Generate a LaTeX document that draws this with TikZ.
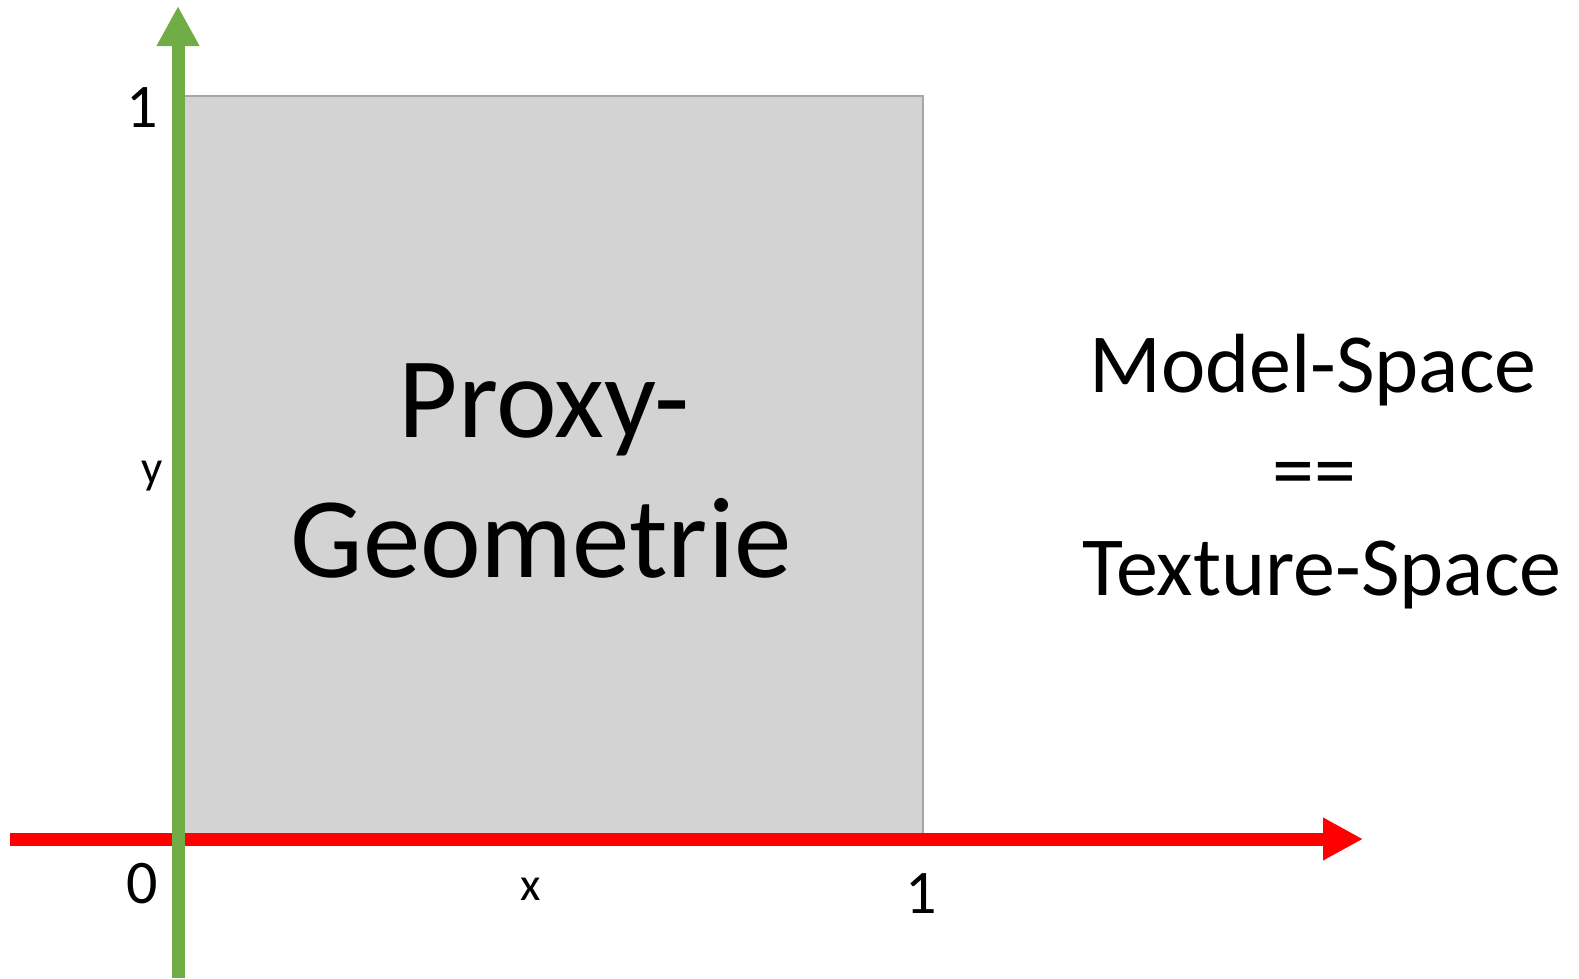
\documentclass[tikz,border=0pt]{standalone}
\usepackage{fontspec}
\setmainfont{Carlito}
\usetikzlibrary{arrows.meta}
\definecolor{axisred}{HTML}{FF0000}
\definecolor{axisgreen}{HTML}{70AD47}
\definecolor{proxyfill}{HTML}{D3D3D3}
\definecolor{proxyedge}{HTML}{A6A6A6}
\tikzset{
  axisline/.style={line width=13pt, -{Triangle[length=40pt,width=40pt]}},
  ticklabel/.style={inner sep=0pt, anchor=base, font=\fontsize{62}{74}\selectfont},
  axislabel/.style={inner sep=0pt, anchor=base, font=\fontsize{47}{56}\selectfont},
  bigtext/.style={inner sep=0pt, anchor=base, font=\fontsize{115}{140}\selectfont},
  sidetext/.style={inner sep=0pt, anchor=base, font=\fontsize{84}{101}\selectfont},
}
\begin{document}
\begin{tikzpicture}[x=1pt, y=-1pt]
\useasboundingbox (0,0) rectangle (1579,978);
% key points of the coordinate frame
\coordinate (origin) at (178,839);
\coordinate (xstart) at (10,839);
\coordinate (xend) at (1363,839);
\coordinate (ystart) at (178,978);
\coordinate (yend) at (178,6);
% proxy geometry square
\node[draw=proxyedge, fill=proxyfill, line width=2pt, inner sep=0pt, anchor=north west,
      minimum width=744pt, minimum height=738pt] (proxy) at (178,95) {};
% axes
\draw[axisline, axisred] (xstart) -- (xend);
\draw[axisline, axisgreen] (ystart) -- (yend);
% tick and axis labels
\node[ticklabel] (ytick) at (142,127) {1};
\node[ticklabel] (zero) at (142,903) {0};
\node[ticklabel] (xtick) at (921,913) {1};
\node[axislabel] (xlab) at (531,900) {x};
\node[axislabel] (ylab) at (152,483) {y};
% captions
\node[bigtext] (proxy1) at (544,437) {Proxy-};
\node[bigtext] (proxy2) at (541,577) {Geometrie};
\node[sidetext] (space1) at (1313,392) {Model-Space};
\node[sidetext] (space2) at (1314,498) {==};
\node[sidetext] (space3) at (1322,595) {Texture-Space};
\end{tikzpicture}
\end{document}
